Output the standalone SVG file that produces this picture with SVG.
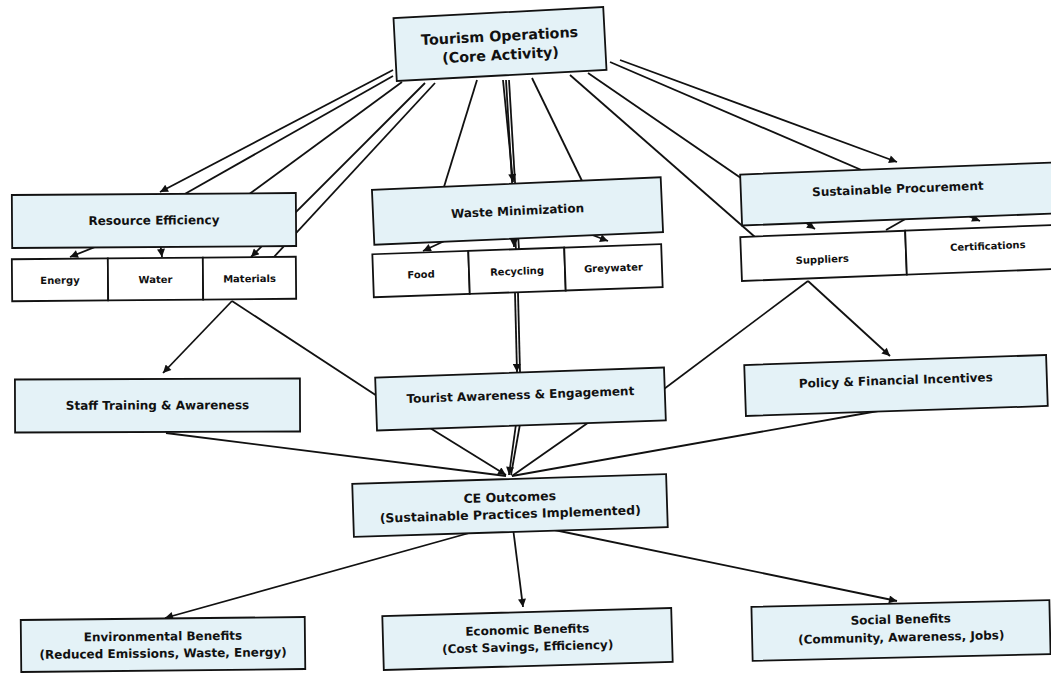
<svg xmlns="http://www.w3.org/2000/svg" width="1051" height="673" viewBox="0 0 1051 673">
<defs>
<marker id="ah" viewBox="0 0 10 10" refX="10" refY="5" markerWidth="9" markerHeight="8" markerUnits="userSpaceOnUse" orient="auto">
<path d="M0,0 L10,5 L0,10 z" fill="#111"/>
</marker>
<style>
.box{fill:#e4f2f7;stroke:#111;stroke-width:1.8}
.cell{fill:#ffffff;stroke:#111;stroke-width:1.8}
.c{stroke:#111;stroke-width:1.8;fill:none}
.a{stroke:#111;stroke-width:1.8;fill:none;marker-end:url(#ah)}
text{font-family:"DejaVu Sans","Liberation Sans",sans-serif;font-weight:bold;fill:#111;text-anchor:middle}
.t1{font-size:14.3px}
.t2{font-size:12px}
.t3{font-size:10px}
.t4{font-size:12.5px}
</style>
</defs>
<rect width="1051" height="673" fill="#ffffff"/>
<g id="connectors">
<path class="a" d="M393,70 L160,192"/>
<path class="c" d="M393,76 L183,195"/>
<path class="c" d="M402,82 L248,195"/>
<path class="a" d="M425,83 L251,257"/>
<path class="c" d="M435,83 L273,258"/>
<path class="a" d="M150,225 L70,257"/>
<path class="a" d="M158,225 L162,257"/>
<path class="c" d="M477,80 L443,190"/>
<path class="a" d="M503,80 L513,182"/>
<path class="c" d="M506,80 L516,250"/>
<path class="c" d="M509,80 L519,250"/>
<path class="c" d="M532,78 L584,185"/>
<path class="a" d="M500,215 L423,251"/>
<path class="a" d="M514,215 L514,247"/>
<path class="a" d="M540,215 L608,241"/>
<path class="c" d="M570,75 L755,237"/>
<path class="a" d="M588,73 L815,229"/>
<path class="a" d="M610,62 L980,221"/>
<path class="a" d="M620,60 L897,162"/>
<path class="c" d="M930,205 L886,230"/>
<path class="a" d="M232,301 L163,373"/>
<path class="c" d="M232,301 L400,411"/>
<path class="a" d="M515,293 L517,372"/>
<path class="c" d="M518,293 L520,372"/>
<path class="c" d="M808,281 L640,407"/>
<path class="a" d="M808,281 L890,356"/>
<path class="a" d="M430,428 L506,475"/>
<path class="a" d="M516,424 L509,475"/>
<path class="c" d="M520,424 L511,475"/>
<path class="c" d="M592,420 L512,476"/>
<path class="c" d="M166,433 L506,476"/>
<path class="c" d="M878,411 L512,476"/>
<path class="a" d="M480,530 L165,618"/>
<path class="a" d="M513,528 L523,607"/>
<path class="a" d="M540,527 L897,601"/>
</g>
<g id="tourism-operations" transform="translate(500,44) rotate(-3)">
<rect class="box" x="-105" y="-31.5" width="210" height="63"/>
<text class="t1" y="-3">Tourism Operations</text>
<text class="t1" y="16">(Core Activity)</text>
</g>
<g id="resource-efficiency" transform="translate(154,220.5) rotate(-0.4)">
<rect class="box" x="-142" y="-26.5" width="284" height="53"/>
<text class="t2" y="4">Resource Efficiency</text>
</g>
<g id="resource-parts" transform="translate(154,279) rotate(-0.5)">
<g id="energy"><rect class="cell" x="-142" y="-21" width="96" height="42"/><text class="t3" x="-94" y="4">Energy</text></g>
<g id="water"><rect class="cell" x="-46" y="-21" width="95" height="42"/><text class="t3" x="1.5" y="4">Water</text></g>
<g id="materials"><rect class="cell" x="49" y="-21" width="93" height="42"/><text class="t3" x="95.5" y="4">Materials</text></g>
</g>
<g id="waste-minimization" transform="translate(517.5,211) rotate(-2.5)">
<rect class="box" x="-144.5" y="-27.5" width="289" height="55"/>
<text class="t2" y="4">Waste Minimization</text>
</g>
<g id="waste-parts" transform="translate(517.5,270.7) rotate(-2)">
<g id="food"><rect class="cell" x="-144.5" y="-21.5" width="96" height="43"/><text class="t3" x="-96.5" y="4">Food</text></g>
<g id="recycling"><rect class="cell" x="-48.5" y="-21.5" width="96" height="43"/><text class="t3" x="-0.5" y="4">Recycling</text></g>
<g id="greywater"><rect class="cell" x="47.5" y="-21.5" width="97" height="43"/><text class="t3" x="96" y="4">Greywater</text></g>
</g>
<g id="sustainable-procurement" transform="translate(898,194) rotate(-2.2)">
<rect class="box" x="-157" y="-25.5" width="314" height="51"/>
<text class="t2" y="-1">Sustainable Procurement</text>
</g>
<g id="procurement-parts" transform="translate(898,253) rotate(-2.2)">
<g id="suppliers"><rect class="cell" x="-157" y="-22" width="165" height="44"/><text class="t3" x="-76" y="7">Suppliers</text></g>
<g id="certifications"><rect class="cell" x="8" y="-22" width="149" height="44"/><text class="t3" x="90" y="0">Certifications</text></g>
</g>
<g id="staff-training" transform="translate(157.5,405.5) rotate(-0.2)">
<rect class="box" x="-142.5" y="-26.5" width="285" height="53"/>
<text class="t2" y="4">Staff Training &amp; Awareness</text>
</g>
<g id="tourist-awareness" transform="translate(520.5,399) rotate(-2)">
<rect class="box" x="-144.5" y="-26.5" width="289" height="53"/>
<text class="t2" y="0">Tourist Awareness &amp; Engagement</text>
</g>
<g id="policy-incentives" transform="translate(896,385.5) rotate(-1.9)">
<rect class="box" x="-151" y="-25.5" width="302" height="51"/>
<text class="t2" y="-1">Policy &amp; Financial Incentives</text>
</g>
<g id="ce-outcomes" transform="translate(510,505.5) rotate(-1.8)">
<rect class="box" x="-157" y="-26.5" width="314" height="53"/>
<text class="t4" y="-4">CE Outcomes</text>
<text class="t4" y="13">(Sustainable Practices Implemented)</text>
</g>
<g id="environmental-benefits" transform="translate(163,644.5) rotate(-0.6)">
<rect class="box" x="-142" y="-26" width="284" height="52"/>
<text class="t2" y="-4">Environmental Benefits</text>
<text class="t2" y="13">(Reduced Emissions, Waste, Energy)</text>
</g>
<g id="economic-benefits" transform="translate(527.5,639) rotate(-1.6)">
<rect class="box" x="-144.5" y="-27" width="289" height="54"/>
<text class="t2" y="-5">Economic Benefits</text>
<text class="t2" y="12">(Cost Savings, Efficiency)</text>
</g>
<g id="social-benefits" transform="translate(901,630.5) rotate(-1.3)">
<rect class="box" x="-149" y="-27" width="298" height="54"/>
<text class="t2" y="-7">Social Benefits</text>
<text class="t2" y="11">(Community, Awareness, Jobs)</text>
</g>
</svg>
